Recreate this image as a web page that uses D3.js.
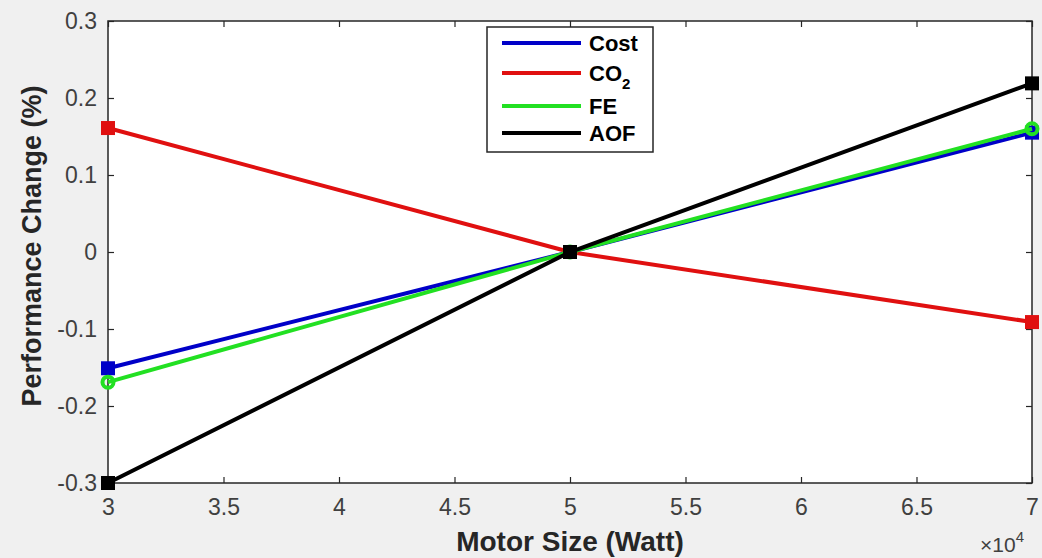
<!DOCTYPE html>
<html>
<head>
<meta charset="utf-8">
<script src="https://cdn.jsdelivr.net/npm/d3@7"></script>
<style>
  body { margin: 0; background: #f0f0f0; }
  svg { display: block; font-family: "Liberation Sans", Arial, sans-serif; }
</style>
</head>
<body>
<div id="chart"></div>
<script>
// values (x in units of 1e4 W)
var motorSize = [3, 5, 7];
var costVals = [-0.151, 0, 0.155];
var co2Vals = [0.161, 0, -0.091];
var feVals = [-0.169, 0, 0.16];
var aofVals = [-0.3, 0, 0.219];
var xTicks = [3, 3.5, 4, 4.5, 5, 5.5, 6, 6.5, 7];
var yTicks = [-0.3, -0.2, -0.1, 0, 0.1, 0.2, 0.3];

var series = [
  { name: "Cost", values: costVals, color: "#0000c8", marker: "square" },
  { name: "CO2", values: co2Vals, color: "#e01010", marker: "square" },
  { name: "FE", values: feVals, color: "#22e022", marker: "circle" },
  { name: "AOF", values: aofVals, color: "#000000", marker: "square" }
];

var W = 1042, H = 558;
var margin = { top: 21, right: 10, bottom: 75, left: 108 };
var width = W - margin.left - margin.right;
var height = H - margin.top - margin.bottom;

var svg = d3.select("#chart").append("svg").attr("width", W).attr("height", H);
svg.append("rect").attr("width", W).attr("height", H).attr("fill", "#f0f0f0");

var x = d3.scaleLinear().domain([3, 7]).range([0, width]);
var y = d3.scaleLinear().domain([-0.3, 0.3]).range([height, 0]);

var plot = svg.append("g").attr("transform", "translate(" + margin.left + "," + margin.top + ")");
plot.append("rect").attr("width", width).attr("height", height).attr("fill", "#fff");

var tickFmt = function(d) { return d === 0 ? "0" : String(+d.toFixed(1)); };

function styleAxis(g) {
  g.select(".domain").remove();
  g.selectAll(".tick line").attr("stroke", "#262626").attr("stroke-width", 1.2);
  g.selectAll(".tick text").attr("fill", "#404040").style("font-size", "23px");
}

plot.append("g").attr("transform", "translate(0," + height + ")")
  .call(d3.axisBottom(x).tickValues(xTicks).tickSize(-6).tickPadding(16).tickFormat(tickFmt))
  .call(styleAxis);
plot.append("g")
  .call(d3.axisTop(x).tickValues(xTicks).tickSize(-6).tickFormat(""))
  .call(styleAxis);
plot.append("g")
  .call(d3.axisLeft(y).tickValues(yTicks).tickSize(-6).tickPadding(11).tickFormat(tickFmt))
  .call(styleAxis);
plot.append("g").attr("transform", "translate(" + width + ",0)")
  .call(d3.axisRight(y).tickValues(yTicks).tickSize(-6).tickFormat(""))
  .call(styleAxis);

plot.append("rect").attr("width", width).attr("height", height)
  .attr("fill", "none").attr("stroke", "#262626").attr("stroke-width", 1.5);

var line = d3.line().x(function(d) { return x(d[0]); }).y(function(d) { return y(d[1]); });

series.forEach(function(s) {
  var pts = motorSize.map(function(m, i) { return [m, s.values[i]]; });
  var g = plot.append("g");
  g.append("path").datum(pts).attr("d", line).attr("fill", "none")
    .attr("stroke", s.color).attr("stroke-width", 4);
  if (s.marker === "square") {
    g.selectAll("rect").data(pts).enter().append("rect")
      .attr("x", function(d) { return x(d[0]) - 7; })
      .attr("y", function(d) { return y(d[1]) - 7; })
      .attr("width", 14).attr("height", 14).attr("fill", s.color);
  } else {
    g.selectAll("circle").data(pts).enter().append("circle")
      .attr("cx", function(d) { return x(d[0]); })
      .attr("cy", function(d) { return y(d[1]); })
      .attr("r", 5.5).attr("fill", "none").attr("stroke", s.color).attr("stroke-width", 4);
  }
});

// legend
var leg = svg.append("g").attr("transform", "translate(487,27)");
leg.append("rect").attr("width", 166).attr("height", 125)
  .attr("fill", "#fff").attr("stroke", "#262626").attr("stroke-width", 1.5);
var legY = [16, 46, 79, 106];
series.forEach(function(s, i) {
  leg.append("line").attr("x1", 15).attr("x2", 94).attr("y1", legY[i]).attr("y2", legY[i])
    .attr("stroke", s.color).attr("stroke-width", 4);
  var t = leg.append("text").attr("x", 102).attr("y", legY[i] + 8)
    .attr("font-weight", "bold").style("font-size", "22px").attr("fill", "#000");
  if (s.name === "CO2") {
    t.text("CO");
    t.append("tspan").attr("dy", 8).style("font-size", "15px").text("2");
  } else {
    t.text(s.name);
  }
});

// axis titles
svg.append("text").attr("x", margin.left + x(5)).attr("y", 551)
  .attr("text-anchor", "middle").attr("font-weight", "bold")
  .style("font-size", "28px").attr("fill", "#262626").text("Motor Size (Watt)");
svg.append("text").attr("transform", "translate(41,246) rotate(-90)")
  .attr("text-anchor", "middle").attr("font-weight", "bold")
  .style("font-size", "27px").attr("fill", "#262626").text("Performance Change (%)");

// exponent label
var ex = svg.append("text").attr("x", 1024).attr("y", 552).attr("text-anchor", "end")
  .style("font-size", "21px").attr("fill", "#404040");
ex.append("tspan").text("\u00d710");
ex.append("tspan").attr("dy", -10).style("font-size", "15px").text("4");
</script>
</body>
</html>
